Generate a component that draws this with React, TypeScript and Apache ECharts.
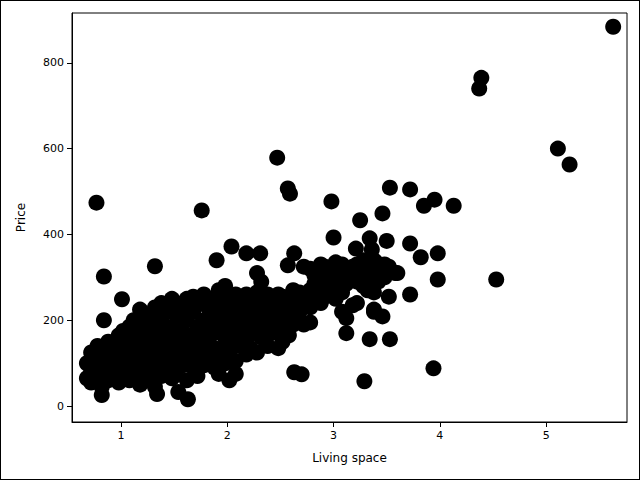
import React, { useEffect, useRef } from "react";
import * as echarts from "echarts";

// Living space (x) and price (y)
const outliers: [number, number][] = [
	[5.63, 884], [4.39, 765], [4.37, 740], [5.11, 600], [5.22, 563], [2.47, 579],
	[2.57, 507], [2.59, 495], [0.77, 474], [1.76, 456], [2.98, 477], [3.53, 509],
	[3.72, 505], [3.95, 481], [3.85, 467], [4.13, 467], [3.46, 449], [3.25, 433],
	[3.0, 393], [0.84, 302], [1.32, 326], [1.01, 249], [0.84, 200], [4.53, 295],
	[3.98, 295], [3.98, 356], [3.72, 379], [3.82, 347], [3.72, 260], [3.46, 209],
	[3.12, 170], [3.34, 156], [3.53, 156], [3.94, 88], [3.29, 58], [2.63, 79],
	[2.7, 74], [1.63, 16], [1.54, 33], [0.82, 26], [1.34, 28], [2.04, 372],
	[2.18, 356], [2.31, 356], [2.63, 356], [1.9, 340], [2.57, 328], [3.21, 367],
	[3.34, 391], [3.36, 365], [3.5, 385], [3.4, 335], [3.6, 310], [3.32, 290],
	[3.52, 255], [3.38, 225],
];

const clusterX = [
	0.68, 0.72, 0.78, 0.82, 0.88, 0.92, 0.98, 1.02, 1.08, 1.12, 1.18, 1.22, 1.28, 1.32,
	1.38, 1.42, 1.48, 1.52, 1.58, 1.62, 1.68, 1.72, 1.78, 1.82, 1.88, 1.92, 1.98, 2.02,
	2.08, 2.12, 2.18, 2.22, 2.28, 2.32, 2.38, 2.42, 2.48, 2.52, 2.58, 2.62, 2.68, 2.72,
	2.78, 2.82, 2.88, 2.92, 2.98, 3.02, 3.08, 3.12, 3.18, 3.22, 3.28, 3.32, 3.38, 3.42,
	3.48, 3.52, 3.58,
];
const clusterY = [
	[65, 100], [125, 80, 55], [140, 95, 60, 110], [75, 120, 45], [130, 90, 60, 150],
	[110, 70, 140], [85, 55, 120, 165], [100, 145, 70, 175], [60, 130, 95, 185, 150],
	[110, 80, 160, 200], [50, 140, 95, 175, 225], [120, 70, 190, 160, 210],
	[85, 150, 110, 200, 60], [130, 175, 95, 230, 45], [160, 115, 70, 205, 240],
	[140, 90, 185, 225, 120], [100, 170, 250, 130, 65], [150, 210, 80, 190, 240],
	[125, 175, 95, 230, 155], [200, 140, 60, 250, 110], [165, 90, 220, 130, 255],
	[185, 145, 105, 240, 70], [200, 125, 160, 260, 95], [150, 230, 180, 110, 205],
	[170, 215, 135, 250, 90], [190, 120, 240, 75, 270], [160, 210, 140, 280, 100],
	[180, 230, 125, 250, 60], [200, 150, 260, 105, 75], [175, 225, 140, 250],
	[190, 240, 155, 120, 260], [210, 170, 250, 135], [230, 180, 125, 265, 310],
	[200, 250, 160, 290], [220, 180, 260, 140], [195, 245, 170, 230], [210, 260, 135, 185],
	[230, 180, 255, 150], [200, 250, 225, 165], [235, 270, 190, 210], [220, 250, 200, 265],
	[190, 240, 325], [230, 270, 195, 320], [285, 250, 305], [300, 270, 330, 240],
	[280, 310, 255, 325], [290, 320, 265, 300], [310, 280, 335, 250], [295, 330, 265, 220],
	[320, 285, 205], [300, 325, 235], [290, 330, 240], [310, 280, 340], [325, 270, 300],
	[300, 340, 265, 220], [320, 290], [330, 300], [315, 325], [310],
];

const xTicks = [1, 2, 3, 4, 5];
const yTicks = [0, 200, 400, 600, 800];

export default function App() {
	const chartRef = useRef<HTMLDivElement>(null);

	useEffect(() => {
		document.body.style.margin = "0";
		if (!chartRef.current) return;
		const chart = echarts.init(chartRef.current, null, { renderer: "svg" });

		const points: [number, number][] = [...outliers];
		clusterX.forEach((x, i) => clusterY[i].forEach((y) => points.push([x, y])));

		const axisCommon = {
			nameLocation: "middle" as const,
			nameTextStyle: { color: "#000", fontSize: 12, fontFamily: "DejaVu Sans" },
			axisLine: { show: true, onZero: false, lineStyle: { color: "#000" } },
			axisTick: { show: true, lineStyle: { color: "#000" } },
			axisLabel: { color: "#000", fontSize: 11, fontFamily: "DejaVu Sans" },
			splitLine: { show: false },
		};

		chart.setOption({
			animation: false,
			grid: { left: 71, right: 12, top: 12, bottom: 57, show: true, borderColor: "#000", borderWidth: 1 },
			xAxis: {
				...axisCommon,
				type: "value",
				name: "Living space",
				nameGap: 30,
				min: 0.54,
				max: 5.76,
				axisTick: { ...axisCommon.axisTick, customValues: xTicks },
				axisLabel: { ...axisCommon.axisLabel, customValues: xTicks },
			},
			yAxis: {
				...axisCommon,
				type: "value",
				name: "Price",
				nameGap: 45,
				min: -37,
				max: 916,
				axisTick: { ...axisCommon.axisTick, customValues: yTicks },
				axisLabel: { ...axisCommon.axisLabel, customValues: yTicks },
			},
			series: [
				{
					type: "scatter",
					data: points,
					symbolSize: 16,
					itemStyle: { color: "#000", opacity: 1 },
				},
			],
		});

		return () => chart.dispose();
	}, []);

	return (
		<div
			ref={chartRef}
			style={{ width: 640, height: 480, boxSizing: "border-box", border: "1px solid #000" }}
		/>
	);
}
